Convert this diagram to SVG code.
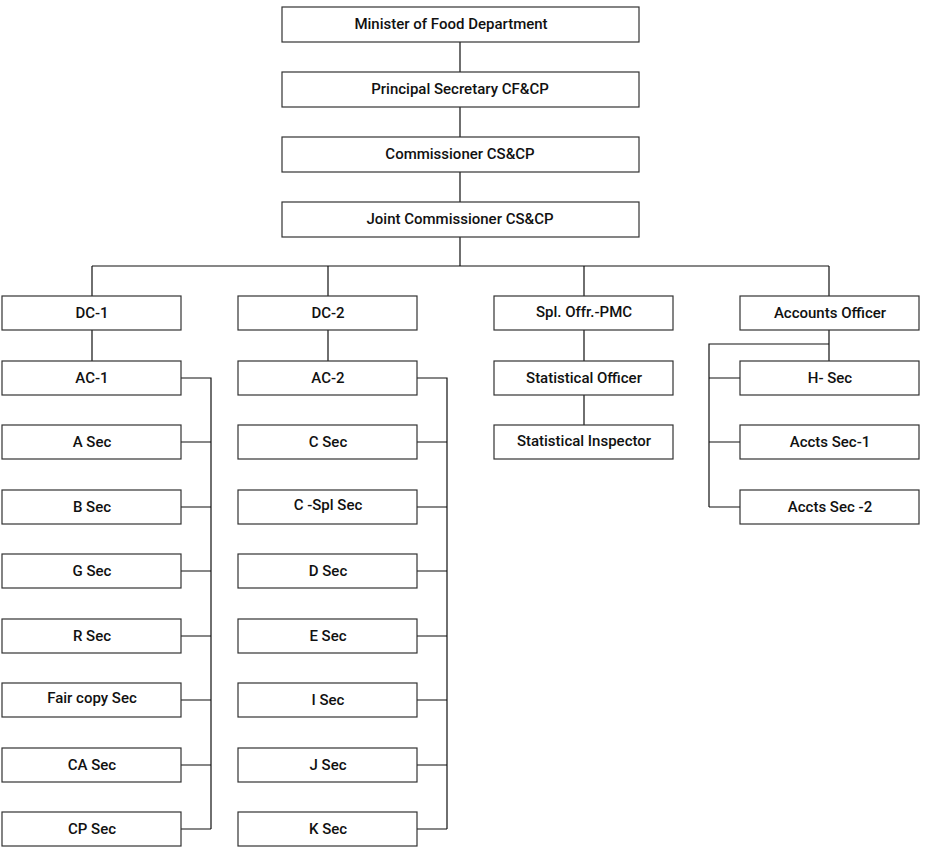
<svg xmlns="http://www.w3.org/2000/svg" width="932" height="862" viewBox="0 0 932 862">
<style>
rect{fill:#fff;stroke:#333;stroke-width:1.2}
text{font-family:Roboto,"Liberation Sans",sans-serif;font-size:15px;font-weight:500;fill:#111;text-anchor:middle;dominant-baseline:central}
.c{stroke:#111;stroke-width:1.2;fill:none}
</style>
<rect width="932" height="862" style="fill:#fff;stroke:none"/>
<g id="connectors" class="c">
<path d="M460 42V72M460 107V137M460 172V202M460 237V266M92 266H829M92 266V296M328 266V296M584 266V296M829 266V296"/>
<path d="M92 330V361M328 330V361M584 330V361M584 395V425"/>
<path d="M181 378H211V829M181 442H211M181 507H211M181 571H211M181 636H211M181 700H211M181 765H211M181 829H211"/>
<path d="M417 378H447V829M417 442H447M417 507H447M417 571H447M417 636H447M417 700H447M417 765H447M417 829H447"/>
<path d="M829 330V361M829 344H709V507M709 378H740M709 442H740M709 507H740"/>
</g>
<g id="n1"><rect x="282" y="7" width="357" height="35"/><text x="451" y="24">Minister of Food Department</text></g>
<g id="n2"><rect x="282" y="72" width="357" height="35"/><text x="460" y="89">Principal Secretary CF&amp;CP</text></g>
<g id="n3"><rect x="282" y="137" width="357" height="35"/><text x="460" y="154">Commissioner CS&amp;CP</text></g>
<g id="n4"><rect x="282" y="202" width="357" height="35"/><text x="460" y="219">Joint Commissioner CS&amp;CP</text></g>
<g id="dc1"><rect x="2" y="296" width="179" height="34"/><text x="92" y="313">DC-1</text></g>
<g id="dc2"><rect x="238" y="296" width="179" height="34"/><text x="328" y="313">DC-2</text></g>
<g id="spl"><rect x="494" y="296" width="179" height="34"/><text x="584" y="312">Spl. Offr.-PMC</text></g>
<g id="ao"><rect x="740" y="296" width="179" height="34"/><text x="830" y="313">Accounts Officer</text></g>
<g id="ac1"><rect x="2" y="361" width="179" height="34"/><text x="92" y="378">AC-1</text></g>
<g id="asec"><rect x="2" y="425" width="179" height="34"/><text x="92" y="442">A Sec</text></g>
<g id="bsec"><rect x="2" y="490" width="179" height="34"/><text x="92" y="507">B Sec</text></g>
<g id="gsec"><rect x="2" y="554" width="179" height="34"/><text x="92" y="571">G Sec</text></g>
<g id="rsec"><rect x="2" y="619" width="179" height="34"/><text x="92" y="636">R Sec</text></g>
<g id="fsec"><rect x="2" y="683" width="179" height="34"/><text x="92" y="698">Fair copy Sec</text></g>
<g id="casec"><rect x="2" y="748" width="179" height="34"/><text x="92" y="765">CA Sec</text></g>
<g id="cpsec"><rect x="2" y="812" width="179" height="34"/><text x="92" y="829">CP Sec</text></g>
<g id="ac2"><rect x="238" y="361" width="179" height="34"/><text x="328" y="378">AC-2</text></g>
<g id="csec"><rect x="238" y="425" width="179" height="34"/><text x="328" y="442">C Sec</text></g>
<g id="cspl"><rect x="238" y="490" width="179" height="34"/><text x="328" y="505">C -Spl Sec</text></g>
<g id="dsec"><rect x="238" y="554" width="179" height="34"/><text x="328" y="571">D Sec</text></g>
<g id="esec"><rect x="238" y="619" width="179" height="34"/><text x="328" y="636">E Sec</text></g>
<g id="isec"><rect x="238" y="683" width="179" height="34"/><text x="328" y="700">I Sec</text></g>
<g id="jsec"><rect x="238" y="748" width="179" height="34"/><text x="328" y="765">J Sec</text></g>
<g id="ksec"><rect x="238" y="812" width="179" height="34"/><text x="328" y="829">K Sec</text></g>
<g id="so"><rect x="494" y="361" width="179" height="34"/><text x="584" y="378">Statistical Officer</text></g>
<g id="si"><rect x="494" y="425" width="179" height="34"/><text x="584" y="441">Statistical Inspector</text></g>
<g id="hsec"><rect x="740" y="361" width="179" height="34"/><text x="830" y="378">H- Sec</text></g>
<g id="as1"><rect x="740" y="425" width="179" height="34"/><text x="830" y="442">Accts Sec-1</text></g>
<g id="as2"><rect x="740" y="490" width="179" height="34"/><text x="830" y="507">Accts Sec -2</text></g>
</svg>
